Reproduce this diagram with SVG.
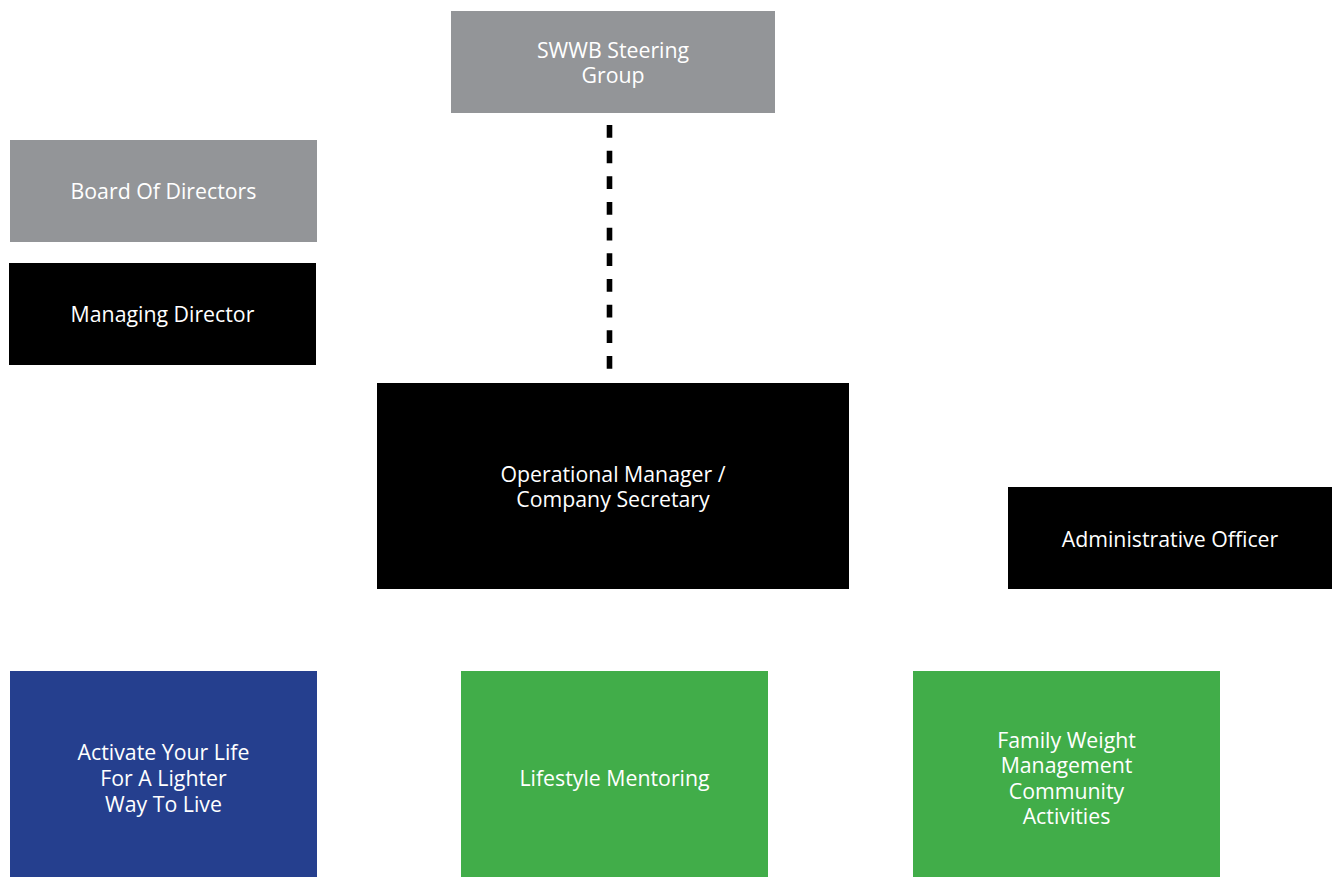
<svg xmlns="http://www.w3.org/2000/svg" width="1338" height="877" viewBox="0 0 1338 877">
<style>
.gray{fill:#939598}.black{fill:#000}.blue{fill:#253f8e}.green{fill:#41ad49}
text{font-family:"Open Sans","Noto Sans",sans-serif;font-size:21.3px;fill:#fff;text-anchor:middle}
.dash{stroke:#000;stroke-width:5.6;stroke-dasharray:12.7 12.97;fill:none}
</style>
<rect width="1338" height="877" fill="#fff"/>
<g id="connectors">
<line class="dash" x1="609.5" y1="125" x2="609.5" y2="369"/>
</g>
<g id="steering"><rect class="gray" x="451" y="11" width="324" height="102"/><text x="613" y="58">SWWB Steering</text><text x="613" y="83">Group</text></g>
<g id="board"><rect class="gray" x="10" y="140" width="307" height="102"/><text x="163.5" y="199">Board Of Directors</text></g>
<g id="md"><rect class="black" x="9" y="263" width="307" height="102"/><text x="162.5" y="322">Managing Director</text></g>
<g id="opmgr"><rect class="black" x="377" y="383" width="472" height="206"/><text x="613" y="482">Operational Manager /</text><text x="613" y="507">Company Secretary</text></g>
<g id="admin"><rect class="black" x="1008" y="487" width="324" height="102"/><text x="1170" y="547">Administrative Officer</text></g>
<g id="activate"><rect class="blue" x="10" y="671" width="307" height="206"/><text x="163.5" y="760">Activate Your Life</text><text x="163.5" y="786">For A Lighter</text><text x="163.5" y="812">Way To Live</text></g>
<g id="lifestyle"><rect class="green" x="461" y="671" width="307" height="206"/><text x="614.5" y="786">Lifestyle Mentoring</text></g>
<g id="family"><rect class="green" x="913" y="671" width="307" height="206"/><text x="1066.5" y="748">Family Weight</text><text x="1066.5" y="773">Management</text><text x="1066.5" y="799">Community</text><text x="1066.5" y="824">Activities</text></g>
</svg>
